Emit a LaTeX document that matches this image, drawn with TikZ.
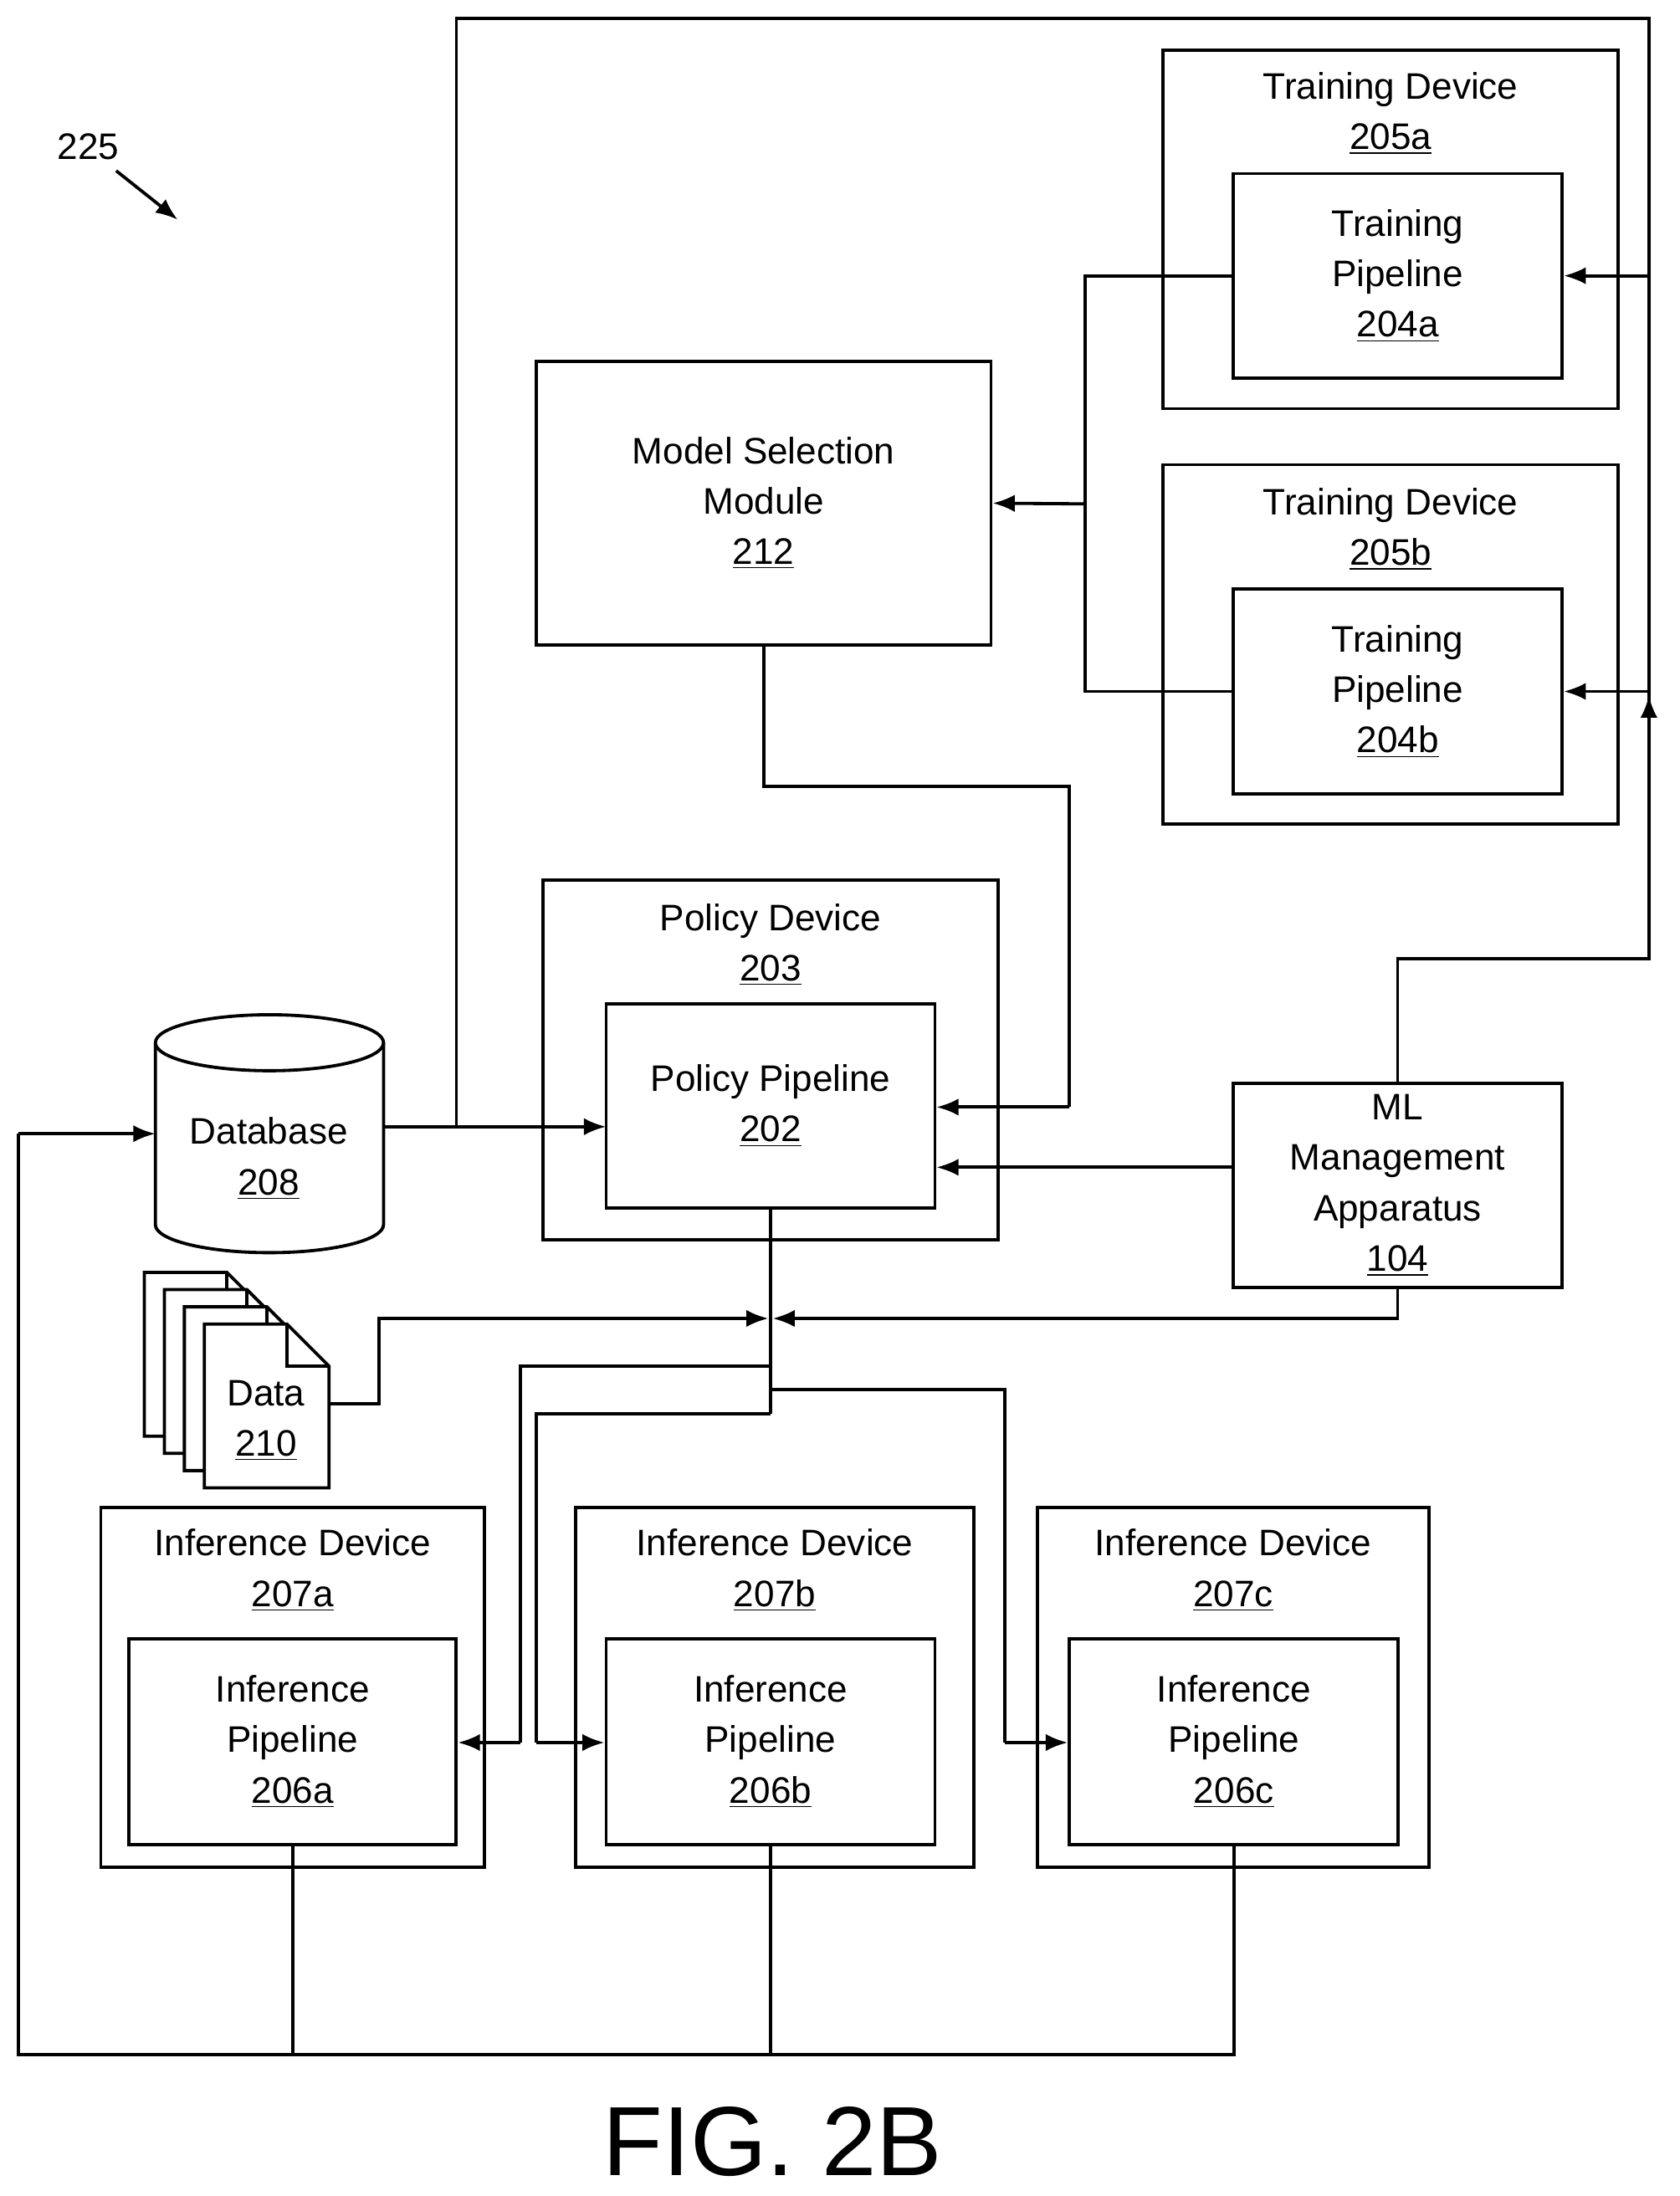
\documentclass[tikz,border=0pt]{standalone}
\usepackage{fontspec}
\setmainfont{Liberation Sans}
\usetikzlibrary{arrows.meta}
\begin{document}
\begin{tikzpicture}[x=0.02cm,y=-0.02cm,
  box/.style={draw,line width=1.3pt,align=center,inner sep=0pt},
  ln/.style={line width=1.3pt},
  ar/.style={line width=1.3pt,-{Latex[length=9pt,width=7pt]}},
  every node/.style={font=\fontsize{15}{20.5}\selectfont}]
\useasboundingbox (0,0) rectangle (1200,1569);
\fill[white] (0,0) rectangle (1200,1569);
% label 225
\node (l225) at (63,105) {225};
\coordinate (a225) at (127,157);
\draw[ar] (83,122) -- (a225);
% training devices
\node[box,minimum width=6.5cm,minimum height=5.12cm] (tda) at (993.5,164) {};
\node[align=center] (tdat) at (993.5,81) {Training Device\\\underline{205a}};
\node[box,minimum width=4.7cm,minimum height=2.92cm] (tdai) at (998.5,197) {Training\\Pipeline\\\underline{204a}};
\node[box,minimum width=6.5cm,minimum height=5.14cm] (tdb) at (993.5,460.5) {};
\node[align=center] (tdbt) at (993.5,378) {Training Device\\\underline{205b}};
\node[box,minimum width=4.7cm,minimum height=2.92cm] (tdbi) at (998.5,494) {Training\\Pipeline\\\underline{204b}};
% model selection
\node[box,minimum width=6.5cm,minimum height=4.06cm] (msm) at (545.5,359.5) {Model Selection\\Module\\\underline{212}};
% policy
\node[box,minimum width=6.5cm,minimum height=5.14cm] (pd) at (550.5,757.5) {};
\node[align=center] (pdt) at (550.5,675) {Policy Device\\\underline{203}};
\node[box,minimum width=4.7cm,minimum height=2.92cm] (pp) at (550.5,790) {Policy Pipeline\\\underline{202}};
% ML
\node[box,minimum width=4.7cm,minimum height=2.92cm] (ml) at (998.5,847) {ML\\Management\\Apparatus\\\underline{104}};
% database
\draw[ln,fill=white] (111,745) -- (111,875) arc[start angle=180,end angle=360,x radius=81.5,y radius=-20] -- (274,745);
\draw[ln,fill=white] (192.5,745) ellipse[x radius=81.5,y radius=20];
\node[align=center] (db) at (192,828) {Database\\\underline{208}};
% data docs
\foreach \i in {3,2,1,0}{
  \draw[ln,fill=white] ({146-14.3*\i},{946-12.3*\i}) -- ({205-14.3*\i},{946-12.3*\i}) -- ({235-14.3*\i},{976-12.3*\i}) -- ({235-14.3*\i},{1063-12.3*\i}) -- ({146-14.3*\i},{1063-12.3*\i}) -- cycle;
  \draw[ln] ({205-14.3*\i},{946-12.3*\i}) -- ({205-14.3*\i},{976-12.3*\i}) -- ({235-14.3*\i},{976-12.3*\i});
}
\node[align=center] (data) at (190,1015) {Data\\\underline{210}};
\coordinate (dataR) at (235,1003);
% inference devices
\node[box,minimum width=5.48cm,minimum height=5.14cm] (ida) at (209,1205.5) {};
\node[align=center] (idat) at (209,1122) {Inference Device\\\underline{207a}};
\node[box,minimum width=4.68cm,minimum height=2.94cm] (ipa) at (209,1244.5) {Inference\\Pipeline\\\underline{206a}};
\node[box,minimum width=5.7cm,minimum height=5.14cm] (idb) at (553.5,1205.5) {};
\node[align=center] (idbt) at (553.5,1122) {Inference Device\\\underline{207b}};
\node[box,minimum width=4.7cm,minimum height=2.94cm] (ipb) at (550.5,1244.5) {Inference\\Pipeline\\\underline{206b}};
\node[box,minimum width=5.6cm,minimum height=5.14cm] (idc) at (881,1205.5) {};
\node[align=center] (idct) at (881,1122) {Inference Device\\\underline{207c}};
\node[box,minimum width=4.7cm,minimum height=2.94cm] (ipc) at (881.5,1244.5) {Inference\\Pipeline\\\underline{206c}};
% connectors: training -> model selection
\coordinate (tj) at (775,360);
\draw[ln] (tdai.west) -- (775,197) -- (775,494) -- (tdbi.west);
\draw[ar] (tj) -- (msm.east);
% model selection -> policy
\coordinate (ppin1) at (669,791);
\draw[ln] (msm.south) -- (545.5,562) -- (764,562) -- (764,791);
\draw[ar] (764,791) -- (ppin1);
% ML -> policy
\draw[ar] (ml.west |- 0,834) -- (669,834);
% outer loop from database to training
\coordinate (dbR) at (274,805);
\coordinate (ppW) at (433,805);
\draw[ar] (dbR) -- (ppW);
\draw[ln] (326,805) -- (326,13) -- (1178,13) -- (1178,685);
\draw[ar] (1178,197) -- (tdai.east);
\draw[ar] (1178,494) -- (tdbi.east);
\draw[ar] (ml.north) -- (998.5,685) -- (1178,685) -- (1178,497);
% ML -> junction
\draw[ar] (ml.south) -- (998.5,942) -- (552,942);
\draw[ar] (dataR) -- (271,1003) -- (271,942) -- (549,942);
% policy down
\draw[ln] (pp.south) -- (550.5,1010);
\draw[ln] (550.5,976) -- (372,976) -- (372,1245);
\draw[ar] (372,1245) -- (ipa.east |- 0,1245);
\draw[ln] (550.5,1010) -- (383,1010) -- (383,1245);
\draw[ar] (383,1245) -- (ipb.west |- 0,1245);
\draw[ln] (550.5,993) -- (718,993) -- (718,1245);
\draw[ar] (718,1245) -- (ipc.west |- 0,1245);
% bottom loop to database
\coordinate (dbW) at (111,810);
\draw[ln] (ipa.south) -- (209,1468);
\draw[ln] (ipb.south) -- (550.5,1468);
\draw[ln] (ipc.south) -- (881.5,1468) -- (13,1468) -- (13,810);
\draw[ar] (13,810) -- (dbW);
% caption
\node[font=\fontsize{40}{44}\selectfont] (fig) at (552,1530) {FIG. 2B};
\end{tikzpicture}
\end{document}
